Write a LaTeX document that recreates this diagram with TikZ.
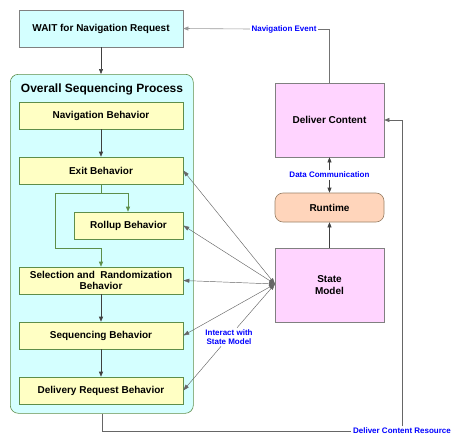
\documentclass[tikz,border=0pt]{standalone}
\usepackage{fontspec}
\setmainfont{Liberation Sans}
\usetikzlibrary{arrows.meta}
\definecolor{cyanfill}{HTML}{D4FFFF}
\definecolor{yellowfill}{HTML}{FFFFC4}
\definecolor{pinkfill}{HTML}{FFD4FF}
\definecolor{peachfill}{HTML}{FFD5BB}
\definecolor{greenline}{HTML}{5E8E4A}
\definecolor{boxline}{HTML}{808080}
\definecolor{lblue}{HTML}{0000FF}
\begin{document}
\begin{tikzpicture}[x=1pt,y=-1pt,
  every node/.style={font=\bfseries\fontsize{10}{11.5}\selectfont, inner sep=0pt},
  ybox/.style={draw=greenline, fill=yellowfill, line width=0.6pt, minimum width=164pt, minimum height=27pt, align=center},
  pbox/.style={draw=boxline, fill=pinkfill, line width=0.6pt, minimum width=109pt, align=center},
  lbl/.style={font=\bfseries\fontsize{8}{9.5}\selectfont, text=lblue, fill=white, inner sep=1.5pt, align=center},
  garrow/.style={draw=greenline, line width=0.6pt, -{Triangle[width=4pt,length=5pt]}},
  karrow/.style={draw=black!75, line width=0.6pt, -{Triangle[width=4pt,length=5pt]}},
  iarrow/.style={draw=black!60, line width=0.45pt, {Triangle[width=4pt,length=6pt]}-{Triangle[width=4pt,length=6pt]}}
]
\useasboundingbox (0,0) rectangle (467,447);
% overall process box
\node[draw=greenline, fill=cyanfill, rounded corners=8pt, line width=0.6pt, minimum width=183pt, minimum height=339pt, anchor=north west] (overall) at (10,74) {};
\node[font=\fontsize{12}{14}\selectfont\bfseries] (title) at (102,89) {Overall Sequencing Process};
% WAIT
\node[draw=boxline, fill=cyanfill, line width=0.6pt, minimum width=164pt, minimum height=37pt] (wait) at (101,28.5) {WAIT for Navigation Request};
% behaviours
\node[ybox] (nav) at (101,115.5) {Navigation Behavior};
\node[ybox] (exit) at (101,170.5) {Exit Behavior};
\node[ybox, minimum width=109pt] (rollup) at (128.5,225.5) {Rollup Behavior};
\node[ybox] (sel) at (101,280.5) {Selection and \ Randomization\\Behavior};
\node[ybox] (seq) at (101,335.5) {Sequencing Behavior};
\node[ybox] (del) at (101,390.5) {Delivery Request Behavior};
% right column
\node[pbox, minimum height=74pt] (deliver) at (329.5,120) {Deliver Content};
\node[draw=boxline!80!orange, fill=peachfill, rounded corners=8pt, line width=0.6pt, minimum width=109pt, minimum height=29pt] (runtime) at (329.5,207.5) {Runtime};
\node[pbox, minimum height=74pt] (state) at (329.5,285) {State\\Model};
\coordinate (sm) at (275,284);
% arrows
\draw[karrow] (wait.south) -- (overall.north -| wait.south);
\draw[karrow] (nav) -- (exit);
\coordinate (split) at (101,193);
\draw[draw=greenline, line width=0.6pt] (exit.south) -- (split);
\draw[garrow] (split) -- (55,193) -- (55,248) -- (101,248) -- (sel.north);
\draw[garrow] (split) -- (128,193) -- (rollup.north -| 128,0);
\draw[karrow] (sel) -- (seq);
\draw[karrow] (seq) -- (del);
% navigation event
\node[lbl] (navev) at (284,29) {Navigation Event};
\draw[draw=black!55, line width=0.6pt] (deliver.north) |- (navev.east);
\draw[karrow, draw=black!40] (navev.west) -- (wait.east);
% data communication
\node[lbl] (datacomm) at (329.5,175) {Data Communication};
\draw[karrow] (datacomm.north) -- (deliver.south);
\draw[karrow] (datacomm.south) -- (runtime.north);
\draw[karrow] (state.north) -- (runtime.south);
% deliver content resource
\node[lbl] (dcr) at (402,431) {Deliver Content Resource};
\draw[draw=black!60, line width=0.6pt] (overall.south) |- (dcr.west);
\draw[karrow, draw=black!60] (dcr.north) -- (402,120) -- (deliver.east);
% interactions
\draw[iarrow] (sm) -- (exit.east);
\draw[iarrow] (sm) -- (rollup.east);
\draw[iarrow] (sm) -- (sel.east);
\draw[iarrow] (sm) -- (seq.east);
\node[lbl] (interact) at (229,337) {Interact with\\State Model};
\draw[draw=black!60, line width=0.45pt, -{Triangle[width=4pt,length=6pt]}] (interact) -- (sm);
\draw[draw=black!60, line width=0.45pt, -{Triangle[width=4pt,length=6pt]}] (interact) -- (del.east);
\end{tikzpicture}
\end{document}
